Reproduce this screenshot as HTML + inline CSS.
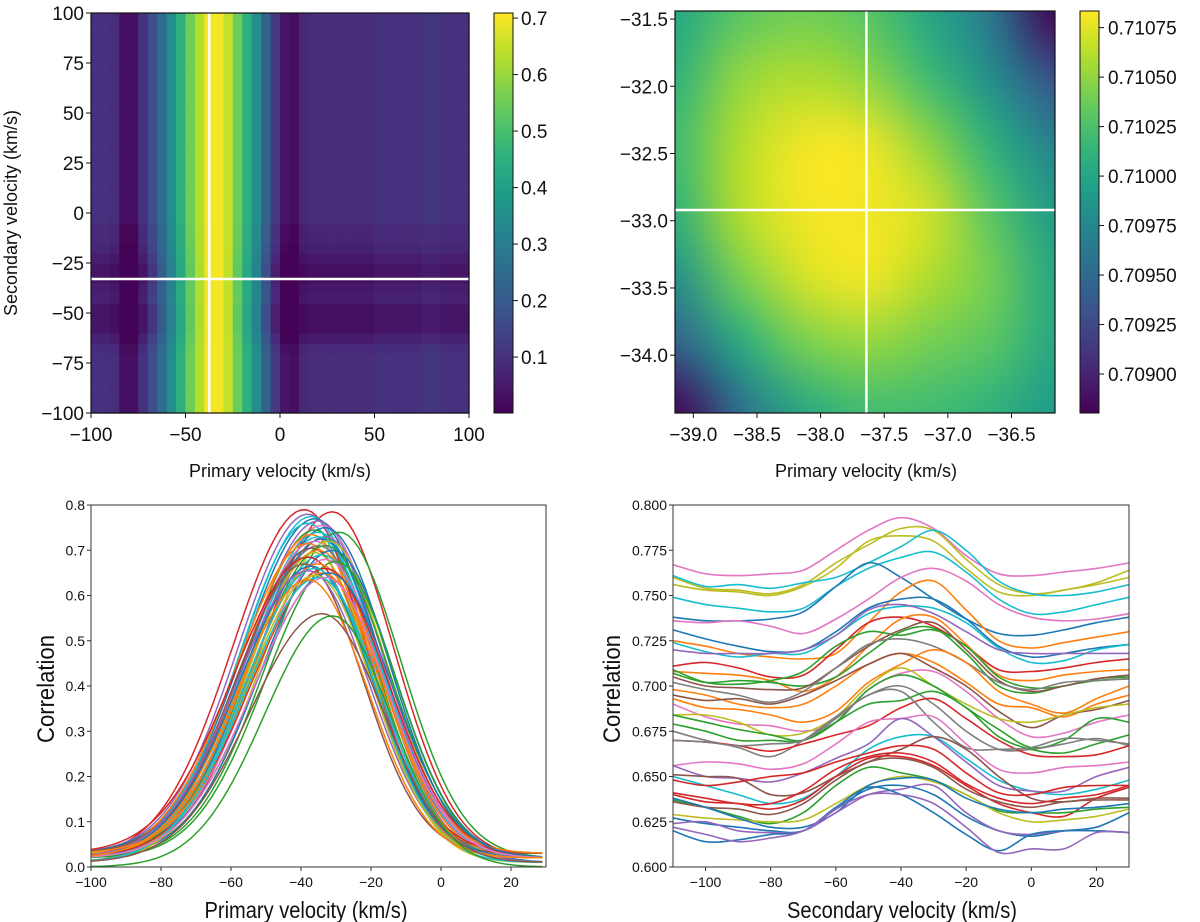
<!DOCTYPE html>
<html><head><meta charset="utf-8">
<style>
html,body{margin:0;padding:0;background:#fff;}
#wrap{position:relative;width:1200px;height:922px;overflow:hidden;}
svg{position:absolute;left:0;top:0;}
#zoomcanvas{position:absolute;left:675px;top:11px;width:380px;height:402px;}
text{font-family:"Liberation Sans",sans-serif;fill:#111;}
</style></head>
<body>
<div id="wrap">
<svg id="svg" width="1200" height="922"></svg>
<canvas id="zoomcanvas" width="380" height="402"></canvas>
<svg id="svg2" width="1200" height="922" style="pointer-events:none"></svg>
</div>
<script>
// ---------- DATA ----------
const hmColValues = [0.10,0.10,0.09,0.03,0.03,0.10,0.17,0.25,0.35,0.45,0.55,0.63,0.70,0.70,0.65,0.55,0.45,0.35,0.22,0.12,0.04,0.03,0.08,0.09,0.09,0.09,0.09,0.09,0.09,0.09,0.10,0.10,0.10,0.10,0.10,0.11,0.11,0.10,0.10,0.10];
const hmRowAdjust = [0,0,0,0,0,0,-0.01,-0.04,-0.07,-0.07,-0.07,-0.04,-0.05,-0.07,-0.07,-0.05,-0.03,-0.02,-0.02,0,0,0,0,0,0,0,0,0,0,0,0,0,0,0,0,0,0,0,0,0];
const hmCross = [-37.4, -33.0];
const hmTicksX = [-100,-50,0,50,100];
const hmTicksY = [-100,-75,-50,-25,0,25,50,75,100];
const cb1Ticks = [0.1,0.2,0.3,0.4,0.5,0.6,0.7];
const zmGrid = [
 [0.7100,0.7103,0.7104,0.7103,0.7100,0.7096,0.7088],
 [0.7101,0.7105,0.7106,0.7105,0.7102,0.7098,0.7093],
 [0.7102,0.7106,0.7108,0.7108,0.7105,0.7101,0.7097],
 [0.7101,0.7106,0.7108,0.7108,0.7107,0.7103,0.7099],
 [0.7098,0.7104,0.7107,0.7108,0.7106,0.7104,0.7100],
 [0.7094,0.7100,0.7104,0.7105,0.7104,0.7103,0.7100],
 [0.7088,0.7095,0.7100,0.7102,0.7102,0.7101,0.7099]];
const zmCross = [-37.64,-32.92];
const zmTicksX = [-39.0,-38.5,-38.0,-37.5,-37.0,-36.5];
const zmTicksY = [-34.0,-33.5,-33.0,-32.5,-32.0,-31.5];
const cb2Ticks = [0.70900,0.70925,0.70950,0.70975,0.71000,0.71025,0.71050,0.71075];
const blPeaks   = [0.79,0.785,0.78,0.775,0.77,0.765,0.76,0.755,0.75,0.745,0.74,0.74,0.735,0.73,0.73,0.725,0.72,0.72,0.715,0.71,0.71,0.705,0.70,0.70,0.695,0.69,0.685,0.68,0.675,0.67,0.67,0.665,0.66,0.66,0.655,0.65,0.65,0.645,0.64,0.64,0.635,0.56,0.555];
const blCenters = [-39,-31,-38,-37,-36,-35,-38,-34,-33,-36,-35,-29,-37,-33,-35,-34,-36,-32,-38,-35,-33,-37,-35,-31,-36,-34,-38,-33,-30,-35,-39,-37,-33,-36,-38,-34,-32,-36,-35,-33,-38,-34,-31];
const blWidths  = [19,19,18.5,18.5,19,19,18,19,19.5,18.5,19,19,18,19,18.5,19,19.5,18,19,19,19.5,18.5,19,19,18,19,19.5,19,18.5,19,18,19,19.5,18.5,19,19,19.5,18,19,19,18.5,19,18];
const blBase    = [0.02,0.02,0.03,0.02,0.03,0.02,0.03,0.02,0.01,0.02,0.03,0.02,0.02,0.01,0.03,0.02,0.02,0.03,0.02,0.01,0.02,0.03,0.02,0.02,0.01,0.02,0.03,0.02,0.02,0.01,0.03,0.02,0.02,0.01,0.02,0.03,0.02,0.02,0.01,0.02,0.02,0.01,0.0];
const blColorIdx = [3,3,4,9,0,4,9,6,0,2,9,2,1,4,9,0,6,8,1,7,2,5,1,0,8,9,3,6,2,1,5,0,3,9,4,1,0,8,9,6,1,5,2];
const blTicksX = [-100,-80,-60,-40,-20,0,20];
const blTicksY = [0.0,0.1,0.2,0.3,0.4,0.5,0.6,0.7,0.8];
const brX = [-110,-100,-90,-80,-70,-60,-50,-40,-30,-20,-10,0,10,20,30];
const brSeries = [
[0.767,0.762,0.761,0.762,0.764,0.775,0.786,0.793,0.787,0.772,0.762,0.761,0.763,0.765,0.768],
[0.760,0.754,0.753,0.751,0.756,0.768,0.778,0.787,0.786,0.770,0.756,0.751,0.753,0.757,0.764],
[0.756,0.753,0.752,0.750,0.755,0.765,0.780,0.783,0.780,0.765,0.752,0.750,0.753,0.756,0.760],
[0.761,0.755,0.756,0.754,0.757,0.760,0.768,0.777,0.786,0.775,0.758,0.751,0.750,0.752,0.756],
[0.749,0.745,0.743,0.741,0.743,0.755,0.765,0.771,0.774,0.763,0.748,0.740,0.741,0.745,0.749],
[0.738,0.736,0.736,0.737,0.741,0.755,0.768,0.760,0.748,0.737,0.729,0.728,0.731,0.735,0.738],
[0.736,0.735,0.736,0.733,0.729,0.737,0.748,0.760,0.765,0.758,0.745,0.738,0.736,0.737,0.740],
[0.725,0.722,0.718,0.716,0.715,0.718,0.735,0.752,0.758,0.742,0.725,0.721,0.724,0.727,0.730],
[0.731,0.726,0.722,0.719,0.720,0.730,0.743,0.748,0.748,0.737,0.722,0.716,0.718,0.721,0.723],
[0.724,0.719,0.716,0.718,0.718,0.728,0.740,0.744,0.743,0.735,0.721,0.713,0.714,0.720,0.723],
[0.720,0.718,0.718,0.718,0.720,0.728,0.742,0.745,0.740,0.730,0.720,0.718,0.718,0.718,0.718],
[0.711,0.713,0.710,0.705,0.706,0.720,0.735,0.738,0.733,0.722,0.709,0.708,0.710,0.713,0.715],
[0.708,0.707,0.706,0.703,0.697,0.705,0.722,0.737,0.738,0.723,0.706,0.703,0.706,0.708,0.709],
[0.709,0.702,0.701,0.703,0.708,0.722,0.730,0.728,0.731,0.722,0.705,0.699,0.700,0.704,0.705],
[0.707,0.702,0.703,0.702,0.700,0.705,0.718,0.730,0.732,0.718,0.700,0.696,0.700,0.703,0.704],
[0.705,0.700,0.699,0.698,0.699,0.710,0.722,0.731,0.735,0.720,0.703,0.697,0.700,0.704,0.706],
[0.702,0.698,0.695,0.691,0.697,0.710,0.723,0.726,0.722,0.713,0.702,0.698,0.702,0.703,0.704],
[0.698,0.695,0.690,0.688,0.690,0.700,0.712,0.718,0.713,0.702,0.690,0.688,0.683,0.690,0.695],
[0.695,0.692,0.693,0.690,0.695,0.703,0.712,0.718,0.710,0.700,0.686,0.677,0.684,0.687,0.692],
[0.693,0.688,0.687,0.684,0.680,0.686,0.702,0.712,0.720,0.713,0.697,0.690,0.685,0.693,0.700],
[0.690,0.683,0.679,0.678,0.675,0.680,0.698,0.707,0.708,0.697,0.682,0.672,0.674,0.680,0.684],
[0.684,0.684,0.680,0.673,0.674,0.683,0.700,0.710,0.700,0.690,0.682,0.680,0.684,0.688,0.690],
[0.684,0.680,0.676,0.673,0.670,0.680,0.698,0.706,0.700,0.688,0.676,0.666,0.670,0.682,0.680],
[0.675,0.670,0.666,0.661,0.670,0.683,0.695,0.700,0.690,0.675,0.665,0.665,0.668,0.671,0.667],
[0.679,0.675,0.670,0.670,0.670,0.680,0.690,0.692,0.697,0.688,0.672,0.665,0.663,0.668,0.673],
[0.670,0.669,0.667,0.664,0.668,0.673,0.678,0.688,0.693,0.682,0.670,0.662,0.661,0.662,0.667],
[0.670,0.669,0.667,0.668,0.670,0.682,0.695,0.697,0.680,0.666,0.665,0.666,0.671,0.670,0.668],
[0.656,0.658,0.657,0.654,0.657,0.668,0.680,0.682,0.683,0.668,0.654,0.652,0.655,0.656,0.658],
[0.650,0.645,0.640,0.635,0.638,0.650,0.665,0.672,0.672,0.660,0.648,0.642,0.640,0.643,0.648],
[0.656,0.650,0.649,0.647,0.652,0.660,0.668,0.682,0.672,0.658,0.645,0.642,0.642,0.650,0.655],
[0.651,0.650,0.649,0.640,0.641,0.650,0.658,0.665,0.672,0.665,0.650,0.638,0.636,0.638,0.638],
[0.648,0.645,0.647,0.650,0.652,0.658,0.663,0.667,0.665,0.652,0.641,0.640,0.644,0.645,0.645],
[0.641,0.638,0.635,0.635,0.642,0.654,0.661,0.663,0.658,0.646,0.638,0.635,0.638,0.640,0.645],
[0.640,0.636,0.635,0.632,0.637,0.650,0.660,0.661,0.656,0.645,0.635,0.630,0.628,0.638,0.644],
[0.637,0.633,0.628,0.624,0.630,0.645,0.655,0.652,0.648,0.640,0.631,0.630,0.630,0.632,0.633],
[0.636,0.633,0.632,0.629,0.635,0.648,0.658,0.660,0.655,0.643,0.636,0.633,0.636,0.637,0.637],
[0.629,0.627,0.626,0.625,0.626,0.635,0.645,0.650,0.647,0.640,0.630,0.625,0.626,0.628,0.632],
[0.638,0.633,0.627,0.622,0.622,0.630,0.645,0.649,0.648,0.638,0.632,0.630,0.632,0.633,0.635],
[0.627,0.624,0.622,0.620,0.620,0.632,0.643,0.645,0.640,0.628,0.620,0.617,0.620,0.622,0.630],
[0.624,0.625,0.620,0.619,0.620,0.630,0.640,0.643,0.645,0.630,0.620,0.618,0.620,0.620,0.619],
[0.620,0.614,0.615,0.618,0.620,0.633,0.644,0.640,0.630,0.618,0.609,0.618,0.620,0.620,0.619],
[0.622,0.618,0.614,0.616,0.620,0.632,0.640,0.640,0.635,0.622,0.608,0.610,0.610,0.619,0.619]];
const brColorIdx = [6,8,8,9,9,0,6,1,0,9,4,3,1,2,2,5,7,1,5,1,6,8,2,7,2,3,7,6,9,4,5,3,3,3,2,5,8,0,0,4,0,4];
const brTicksX = [-100,-80,-60,-40,-20,0,20];
const brTicksY = [0.600,0.625,0.650,0.675,0.700,0.725,0.750,0.775,0.800];

// ---------- HELPERS ----------
const tab10 = ['#1f77b4','#ff7f0e','#2ca02c','#d62728','#9467bd','#8c564b','#e377c2','#7f7f7f','#bcbd22','#17becf'];
const vir = [[68,1,84],[72,40,120],[62,74,137],[49,104,142],[38,130,142],[31,158,137],[53,183,121],[109,205,89],[180,222,44],[253,231,37]];
function viridis(t){t=Math.max(0,Math.min(1,t));const p=t*(vir.length-1);const i=Math.min(vir.length-2,Math.floor(p));const f=p-i;
 const c=vir[i].map((v,k)=>Math.round(v+(vir[i+1][k]-v)*f));return 'rgb('+c.join(',')+')';}
const NS='http://www.w3.org/2000/svg';
const svg=document.getElementById('svg');
const svg2=document.getElementById('svg2');
function mk(tag,attrs,parent){const e=document.createElementNS(NS,tag);for(const k in attrs)e.setAttribute(k,attrs[k]);(parent||svg).appendChild(e);return e;}
function txt(s,x,y,size,anchor,parent,rot){const t=mk('text',{x:x,y:y,'font-size':size,'text-anchor':anchor||'middle'},parent);if(rot)t.setAttribute('transform','rotate(-90 '+x+' '+y+')');t.textContent=s;return t;}
function lin(d0,d1,r0,r1){return v=>r0+(v-d0)/(d1-d0)*(r1-r0);}
function fmt(v){return (v<0?'\u2212':'')+Math.abs(v);}

// ---------- PANEL 1 ----------
(function(){
 const L=91,R=469,T=13,B=413;
 const sx=lin(-100,100,L,R), sy=lin(-100,100,B,T);
 const g=mk('g',{});
 
 
 const nC=hmColValues.length,nR=hmRowAdjust.length;
 for(let j=0;j<nR;j++){for(let i=0;i<nC;i++){
  const cv=hmColValues[i];const v=Math.max(0.005,cv+hmRowAdjust[j]*(1-cv/0.71));
  const x0=sx(-100+i*200/nC),x1=sx(-100+(i+1)*200/nC),y0=sy(-100+(j+1)*200/nR),y1=sy(-100+j*200/nR);
  const r=mk('rect',{x:x0,y:y0,width:x1-x0+0.6,height:y1-y0+0.6,fill:viridis(v/0.709)},g);
  
  
 }}
 const vl=mk('line',{x1:sx(hmCross[0]),x2:sx(hmCross[0]),y1:T,y2:B,stroke:'#fff','stroke-width':2.5});
 
 const hl=mk('line',{x1:L,x2:R,y1:sy(hmCross[1]),y2:sy(hmCross[1]),stroke:'#fff','stroke-width':2.5});
 
 const fr=mk('rect',{x:L,y:T,width:R-L,height:B-T,fill:'none',stroke:'#111','stroke-width':1.2});
 
 hmTicksX.forEach(v=>{mk('line',{x1:sx(v),x2:sx(v),y1:B,y2:B+5,stroke:'#111'});const t=txt(fmt(v),sx(v),B+28,19);});
 hmTicksY.forEach(v=>{mk('line',{x1:L-5,x2:L,y1:sy(v),y2:sy(v),stroke:'#111'});const t=txt(fmt(v),L-7,sy(v)+7,19,'end');});
 const xl=txt('Primary velocity (km/s)',280,477,18);
 const yl=txt('Secondary velocity (km/s)',17,213,18,'middle',svg,true);
 const cL=494,cR=513,cT=13,cB=413;const cy=lin(0.001,0.709,cB,cT);
 const defs=mk('defs',{});const gr=mk('linearGradient',{id:'cbg',x1:0,y1:1,x2:0,y2:0},defs);
 for(let k=0;k<=20;k++)mk('stop',{offset:k/20,'stop-color':viridis(k/20)},gr);
 const cb=mk('rect',{x:cL,y:cT,width:cR-cL,height:cB-cT,fill:'url(#cbg)',stroke:'#111','stroke-width':1});
 
 cb1Ticks.forEach(v=>{mk('line',{x1:cR,x2:cR+5,y1:cy(v),y2:cy(v),stroke:'#111'});const t=txt(v.toFixed(1),cR+8,cy(v)+7,19,'start');});
})();

// ---------- PANEL 2 ----------
(function(){
 const L=675,R=1055,T=11,B=413;
 const sx=lin(-39.144,-36.158,L,R), sy=lin(-34.43,-31.44,B,T);
 const vmin=0.708803,vmax=0.710834;
 const off=document.createElement('canvas');const n=zmGrid.length,m=zmGrid[0].length;off.width=m;off.height=n;
 const oc=off.getContext('2d');
 for(let j=0;j<n;j++)for(let i=0;i<m;i++){oc.fillStyle=viridis((zmGrid[j][i]-vmin)/(vmax-vmin));oc.fillRect(i,j,1,1);}
 const cv=document.getElementById('zoomcanvas');const ctx=cv.getContext('2d');ctx.imageSmoothingEnabled=true;ctx.imageSmoothingQuality='high';
 ctx.drawImage(off,0.5,0.5,m-1,n-1,0,0,380,402);
 const vl=mk('line',{x1:sx(zmCross[0]),x2:sx(zmCross[0]),y1:T,y2:B,stroke:'#fff','stroke-width':2.5},svg2);
 
 const hl=mk('line',{x1:L,x2:R,y1:sy(zmCross[1]),y2:sy(zmCross[1]),stroke:'#fff','stroke-width':2.5},svg2);
 
 const fr=mk('rect',{x:L,y:T,width:R-L,height:B-T,fill:'none',stroke:'#111','stroke-width':1.2},svg2);
 
 zmTicksX.forEach(v=>{mk('line',{x1:sx(v),x2:sx(v),y1:B,y2:B+5,stroke:'#111'});const t=txt('\u2212'+Math.abs(v).toFixed(1),sx(v),B+28,19);});
 zmTicksY.forEach(v=>{mk('line',{x1:L-5,x2:L,y1:sy(v),y2:sy(v),stroke:'#111'});const t=txt('\u2212'+Math.abs(v).toFixed(1),L-7,sy(v)+7,19,'end');});
 const xl=txt('Primary velocity (km/s)',866,477,18);
 const cL=1080,cR=1099,cT=11,cB=413;const cy=lin(vmin,vmax,cB,cT);
 const defs=mk('defs',{});const gr=mk('linearGradient',{id:'cbg2',x1:0,y1:1,x2:0,y2:0},defs);
 for(let k=0;k<=20;k++)mk('stop',{offset:k/20,'stop-color':viridis(k/20)},gr);
 const cb=mk('rect',{x:cL,y:cT,width:cR-cL,height:cB-cT,fill:'url(#cbg2)',stroke:'#111','stroke-width':1});
 
 cb2Ticks.forEach(v=>{mk('line',{x1:cR,x2:cR+5,y1:cy(v),y2:cy(v),stroke:'#111'});const t=txt(v.toFixed(5),cR+9,cy(v)+7,19,'start');});
})();

// ---------- PANEL 3 ----------
(function(){
 const L=91,R=546,T=505,B=867;
 const sx=lin(-100,30,L,R), sy=lin(0,0.8,B,T);
 const defs=mk('defs',{});const c=mk('clipPath',{id:'clip3'},defs);mk('rect',{x:L,y:T,width:R-L,height:B-T},c);
 const g=mk('g',{'clip-path':'url(#clip3)'});
 
 blPeaks.forEach((p,k)=>{
  const ce=blCenters[k],b=blBase[k];let d='';
  for(let x=-100;x<=30;x+=1.5){const w=x<ce?blWidths[k]*1.08:blWidths[k]*0.92;const y=b+(p-b)*Math.exp(-((x-ce)*(x-ce))/(2*w*w));d+=(d?'L':'M')+sx(x).toFixed(1)+','+sy(y).toFixed(1);}
  const pth=mk('path',{d:d,fill:'none',stroke:tab10[blColorIdx[k]],'stroke-width':1.5},g);
  
  
 });
 const fr=mk('rect',{x:L,y:T,width:R-L,height:B-T,fill:'none',stroke:'#333','stroke-width':1});
 
 blTicksX.forEach(v=>{mk('line',{x1:sx(v),x2:sx(v),y1:B,y2:B+4,stroke:'#333'});const t=txt(fmt(v),sx(v),B+20,14);});
 blTicksY.forEach(v=>{mk('line',{x1:L-4,x2:L,y1:sy(v),y2:sy(v),stroke:'#333'});const t=txt(v.toFixed(1),L-6,sy(v)+5,14,'end');});
 const xl=txt('Primary velocity (km/s)',306,918,23);xl.setAttribute('textLength','203');xl.setAttribute('lengthAdjust','spacingAndGlyphs');
 const yl=txt('Correlation',54,689,24,'middle',svg,true);yl.setAttribute('textLength','108');yl.setAttribute('lengthAdjust','spacingAndGlyphs');
})();

// ---------- PANEL 4 ----------
(function(){
 const L=673,R=1129,T=505,B=867;
 const sx=lin(-110,30,L,R), sy=lin(0.6,0.8,B,T);
 const g=mk('g',{});
 
 brSeries.forEach((s,k)=>{
  const P=s.map((v,i)=>[sx(brX[i]),sy(v)]);
  let d='M'+P[0][0].toFixed(1)+','+P[0][1].toFixed(1);
  for(let i=0;i<P.length-1;i++){const p0=P[Math.max(0,i-1)],p1=P[i],p2=P[i+1],p3=P[Math.min(P.length-1,i+2)];
   const c1=[p1[0]+(p2[0]-p0[0])/6,p1[1]+(p2[1]-p0[1])/6],c2=[p2[0]-(p3[0]-p1[0])/6,p2[1]-(p3[1]-p1[1])/6];
   d+='C'+c1[0].toFixed(1)+','+c1[1].toFixed(1)+' '+c2[0].toFixed(1)+','+c2[1].toFixed(1)+' '+p2[0].toFixed(1)+','+p2[1].toFixed(1);}
  const pth=mk('path',{d:d,fill:'none',stroke:tab10[brColorIdx[k]],'stroke-width':1.6},g);
  
  
 });
 const fr=mk('rect',{x:L,y:T,width:R-L,height:B-T,fill:'none',stroke:'#333','stroke-width':1});
 
 brTicksX.forEach(v=>{mk('line',{x1:sx(v),x2:sx(v),y1:B,y2:B+4,stroke:'#333'});const t=txt(fmt(v),sx(v),B+20,14);});
 brTicksY.forEach(v=>{mk('line',{x1:L-4,x2:L,y1:sy(v),y2:sy(v),stroke:'#333'});const t=txt(v.toFixed(3),L-6,sy(v)+5,14,'end');});
 const xl=txt('Secondary velocity (km/s)',902,918,23);xl.setAttribute('textLength','230');xl.setAttribute('lengthAdjust','spacingAndGlyphs');
 const yl=txt('Correlation',620,689,24,'middle',svg,true);yl.setAttribute('textLength','108');yl.setAttribute('lengthAdjust','spacingAndGlyphs');
})();
</script>
</body></html>
